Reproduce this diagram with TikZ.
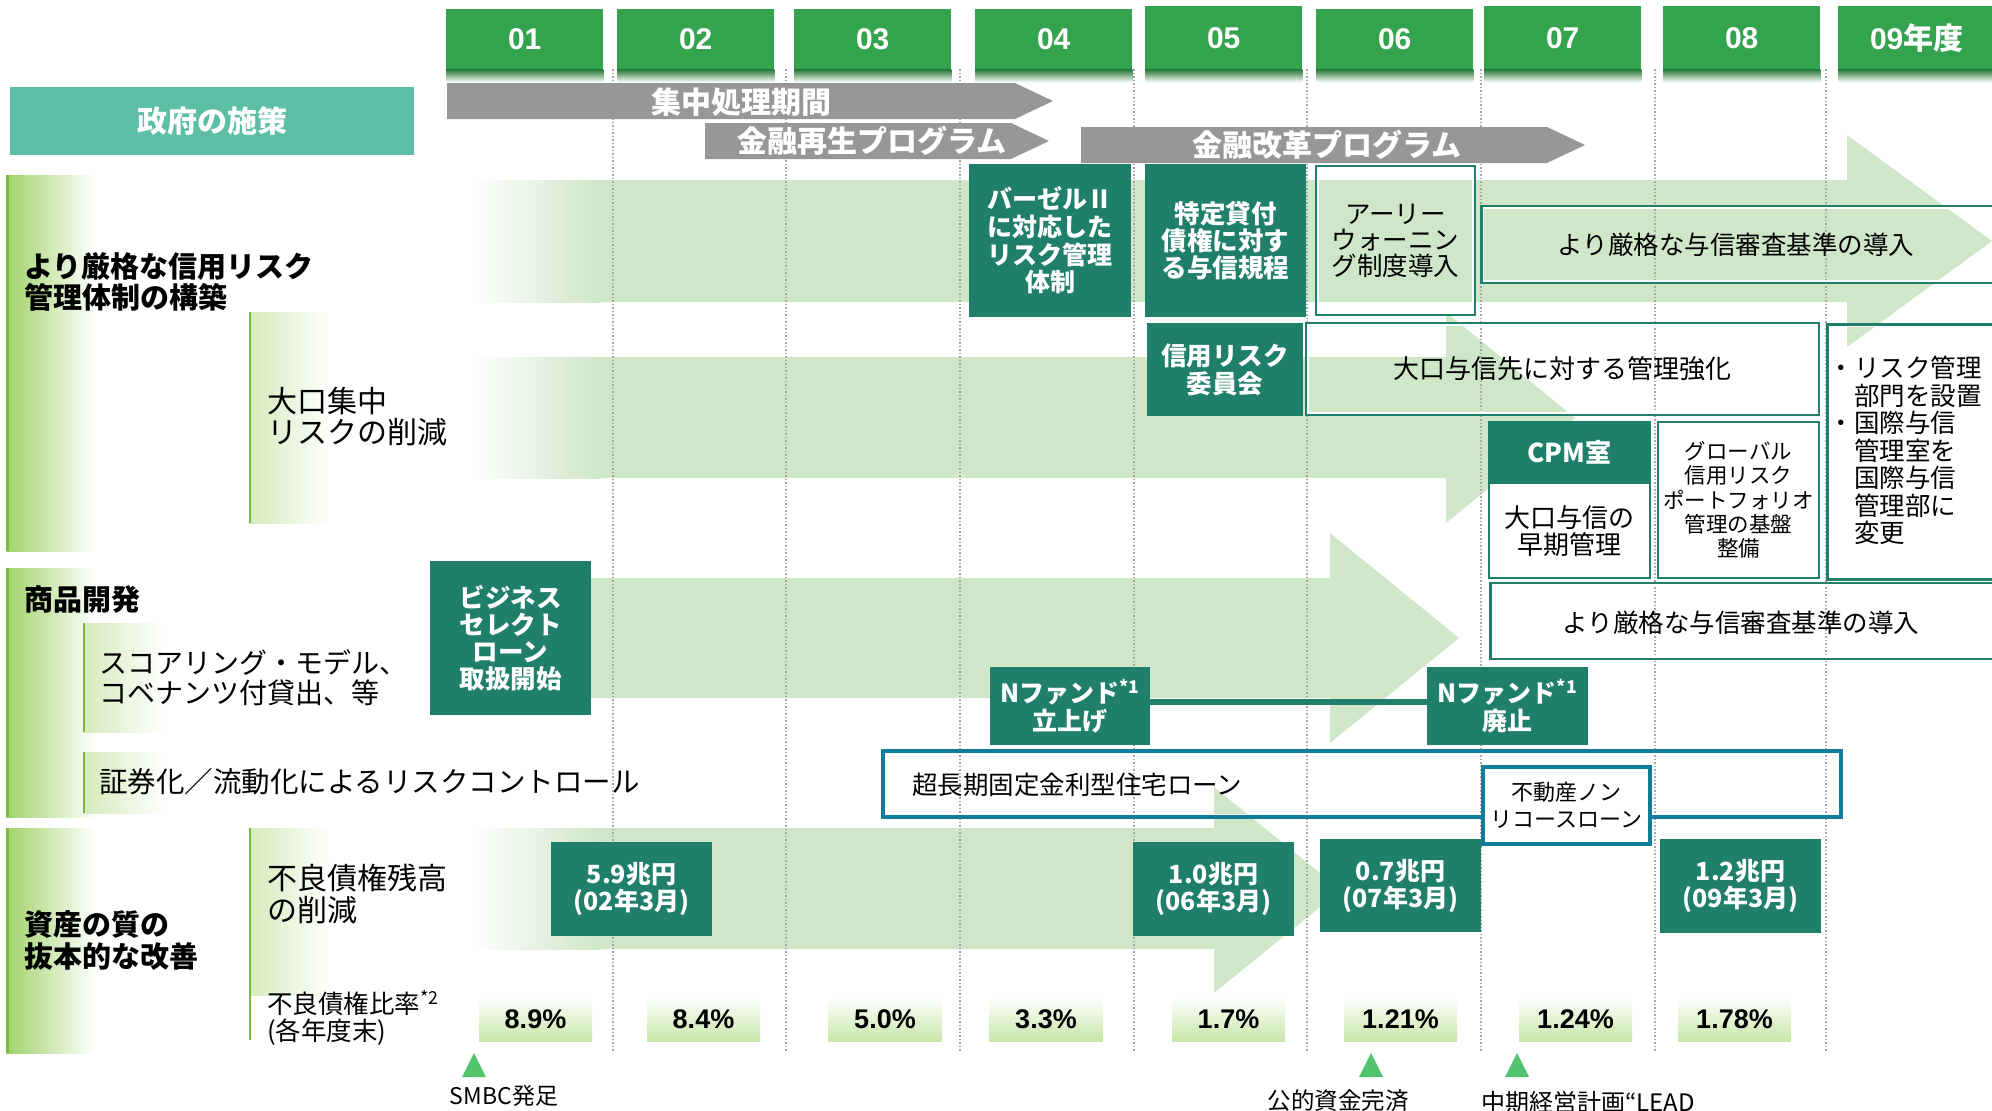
\documentclass[tikz,border=0pt]{standalone}
\usepackage{fontspec}
\setmainfont{Noto Sans CJK JP}
\newfontfamily\lat{Liberation Sans}
\definecolor{hgreen}{RGB}{52,163,77}
\definecolor{hdark}{RGB}{38,120,56}
\definecolor{govc}{RGB}{91,190,165}
\definecolor{agray}{RGB}{151,151,151}
\definecolor{lg}{RGB}{207,230,200}
\definecolor{dteal}{RGB}{31,127,106}
\definecolor{bblue}{RGB}{17,125,155}
\definecolor{barg}{RGB}{160,210,105}
\definecolor{barl}{RGB}{125,185,65}
\definecolor{pctg}{RGB}{200,230,168}
\definecolor{trig}{RGB}{82,196,110}
\definecolor{dotg}{RGB}{165,165,165}
\tikzset{
  fnt/.style 2 args={font=\fontsize{#1}{#2}\selectfont},
  bfnt/.style 2 args={font=\bfseries\fontsize{#1}{#2}\selectfont},
  hbox/.style={fill=hgreen, text=white, inner sep=0, minimum width=157pt, anchor=north west, font=\lat\bfseries\fontsize{30}{32}\selectfont},
  dbox/.style={fill=dteal, text=white, inner sep=0, align=center},
  obox/.style={draw=dteal, line width=2.5pt, inner sep=0, align=center,
    path picture={\draw[white,line width=6pt] (path picture bounding box.south west) rectangle (path picture bounding box.north east);}},
  bbox/.style={draw=bblue, line width=3.5pt, inner sep=0, align=center,
    path picture={\draw[white,line width=7pt] (path picture bounding box.south west) rectangle (path picture bounding box.north east);}},
  pbox/.style={top color=white, bottom color=pctg, inner sep=0, minimum width=113pt, minimum height=44pt, font=\lat\bfseries\fontsize{27}{28}\selectfont},
  lbl/.style={inner sep=0, align=left, anchor=west},
  gtext/.style={text=white, inner sep=0, bfnt={30}{32}},
  dotline/.style={dotg, line width=1.2pt, dash pattern=on 1.5pt off 2pt},
}
\begin{document}
\begin{tikzpicture}[x=1pt,y=-1pt]
\useasboundingbox (0,0) rectangle (1992,1111);
\clip (0,0) rectangle (1992,1111);

% big light green arrows
\fill[lg] (600,180) -- (1847,180) -- (1847,135) -- (1992,241) -- (1847,347) -- (1847,302) -- (600,302) -- cycle;
\shade[left color=white,right color=lg] (472,180) rectangle (601,302);
\fill[lg] (600,357) -- (1446,357) -- (1446,312) -- (1575,418) -- (1446,523) -- (1446,478) -- (600,478) -- cycle;
\shade[left color=white,right color=lg] (472,357) rectangle (601,478);
\fill[lg] (560,578) -- (1330,578) -- (1330,533) -- (1459,638) -- (1330,743) -- (1330,698) -- (560,698) -- cycle;
\fill[lg] (600,828) -- (1214,828) -- (1214,787) -- (1341,890) -- (1214,993) -- (1214,949) -- (600,949) -- cycle;
\shade[left color=white,right color=lg] (472,828) rectangle (601,949);

% left category bars
\shade[left color=barg,right color=white] (6,175) rectangle (95,551);
\draw[barl,line width=3pt] (7.5,175) -- (7.5,551);
\node[lbl,bfnt={29}{31}] (c1) at (24,282) {より厳格な信用リスク\\管理体制の構築};
\shade[left color=barg!45,right color=white] (249,312) rectangle (330,523);
\draw[barl,line width=2.5pt] (250,312) -- (250,523);
\node[lbl,fnt={30}{31}] (s1) at (267,417) {大口集中\\リスクの削減};

\shade[left color=barg,right color=white] (6,568) rectangle (95,817);
\draw[barl,line width=3pt] (7.5,568) -- (7.5,817);
\node[lbl,bfnt={29}{31}] (c2) at (24,600) {商品開発};
\shade[left color=barg!45,right color=white] (83,623) rectangle (165,732);
\draw[barl,line width=2.5pt] (84,623) -- (84,732);
\node[lbl,fnt={28}{30}] (s2) at (99,678) {スコアリング・モデル、\\コベナンツ付貸出、等};
\shade[left color=barg!45,right color=white] (83,752) rectangle (165,813);
\draw[barl,line width=2.5pt] (84,752) -- (84,813);
\node[lbl,fnt={28.5}{30}] (s3) at (99,782) {証券化／流動化によるリスクコントロール};

\shade[left color=barg,right color=white] (6,828) rectangle (95,1053);
\draw[barl,line width=3pt] (7.5,828) -- (7.5,1053);
\node[lbl,bfnt={29}{32}] (c3) at (24,941) {資産の質の\\抜本的な改善};
\shade[left color=barg!45,right color=white] (249,828) rectangle (330,995);
\draw[barl,line width=2.5pt] (250,828) -- (250,1040);
\node[lbl,fnt={30}{32}] (s4) at (267,894) {不良債権残高\\の削減};
\node[lbl,fnt={25.5}{27}] (s5) at (267,1018) {不良債権比率\textsuperscript{*2}\\(各年度末)};

% dotted year lines
\foreach \x in {613,786,960,1134,1307,1481,1655,1826}
  \draw[dotline] (\x,69) -- (\x,1052);

% year headers
\foreach \x/\t/\h/\lab [count=\i] in {446/9/60/01, 617/9/60/02, 794/9/60/03, 975/9/60/04, 1145/6/63/05, 1316/9/60/06, 1484/6/63/07, 1663/6/63/08, 1838/6/63/{09{\rmfamily 年度}}}{
  \node[hbox, minimum height=\h pt] (h\i) at (\x,\t) {\lab};
  \shade[top color=hdark,bottom color=white] (h\i.south west) rectangle ([yshift=-13pt]h\i.south east);
}

% government measures
\node[fill=govc, minimum width=404pt, minimum height=68pt, inner sep=0, text=white, bfnt={30}{32}] (gov) at (212,121) {政府の施策};
\fill[agray] (447,83) -- (1015,83) -- (1053,101) -- (1015,119) -- (447,119) -- cycle;
\node[gtext] (ga1) at (741,102) {集中処理期間};
\fill[agray] (705,123) -- (1011,123) -- (1049,141) -- (1011,159) -- (705,159) -- cycle;
\node[gtext] (ga2) at (872,141) {金融再生プログラム};
\fill[agray] (1081,127) -- (1547,127) -- (1585,145) -- (1547,163) -- (1081,163) -- cycle;
\node[gtext] (ga3) at (1327,145) {金融改革プログラム};

% row 1
\node[dbox, minimum width=162pt, minimum height=153pt, bfnt={25}{27.7}] (basel) at (1050,240.5) {バーゼルⅡ\\に対応した\\リスク管理\\体制};
\node[dbox, minimum width=161pt, minimum height=153pt, bfnt={25.5}{27}] (tokutei) at (1225.5,240.5) {特定貸付\\債権に対す\\る与信規程};
\node[obox, minimum width=159pt, minimum height=149pt, fnt={25.5}{26}] (early) at (1395.5,240.5) {アーリー\\ウォーニン\\グ制度導入};
\node[obox, minimum width=540pt, minimum height=77pt, anchor=west] (strict1) at (1480,244.5) {};
\node[fnt={25.5}{26}, inner sep=0] (strict1t) at (1736,245) {より厳格な与信審査基準の導入};

% row 2
\node[dbox, minimum width=156pt, minimum height=93pt, bfnt={25.5}{28}] (iinkai) at (1225,369.5) {信用リスク\\委員会};
\node[obox, minimum width=513pt, minimum height=92pt, fnt={26}{28}] (oguchi) at (1562.5,369) {大口与信先に対する管理強化};
\node[obox, minimum width=200pt, minimum height=255pt, anchor=north west] (risk) at (1826,323) {};
\node[lbl, fnt={25.5}{27.5}] (riskt) at (1854,450.5) {\llap{・}リスク管理\\部門を設置\\\llap{・}国際与信\\管理室を\\国際与信\\管理部に\\変更};
\node[obox, minimum width=161pt, minimum height=156pt] (cpm) at (1569.5,500) {};
\node[dbox, minimum width=163pt, minimum height=63pt, bfnt={26}{28}] (cpmh) at (1569.5,452.5) {CPM室};
\node[fnt={26}{27}, align=center, inner sep=0] (cpmt) at (1569.5,531.5) {大口与信の\\早期管理};
\node[obox, minimum width=161pt, minimum height=156pt, fnt={21.5}{24.25}] (global) at (1738.5,500) {グローバル\\信用リスク\\ポートフォリオ\\管理の基盤\\整備};

% row 3
\node[dbox, minimum width=161pt, minimum height=154pt, bfnt={25.5}{27}] (bsl) at (510.5,638) {ビジネス\\セレクト\\ローン\\取扱開始};
\node[obox, minimum width=540pt, minimum height=76pt, anchor=west] (strict2) at (1489,621) {};
\node[fnt={25.5}{26}, inner sep=0] (strict2t) at (1741,623) {より厳格な与信審査基準の導入};
\node[dbox, minimum width=160pt, minimum height=78pt, bfnt={25}{28}] (nf1) at (1070,706) {Nファンド\textsuperscript{*1}\\立上げ};
\node[dbox, minimum width=161pt, minimum height=78pt, bfnt={25}{28}] (nf2) at (1507.5,706) {Nファンド\textsuperscript{*1}\\廃止};
\draw[dteal,line width=6pt] ([yshift=4pt]nf1.east) -- ([yshift=4pt]nf2.west);

% row 4
\node[bbox, minimum width=958pt, minimum height=66pt] (jutaku) at (1362,784) {};
\node[lbl, fnt={25.5}{27}] (jutakut) at (912,785) {超長期固定金利型住宅ローン};
\node[bbox, fill=white, minimum width=167pt, minimum height=77pt, fnt={22}{27}] (nonre) at (1566.5,805.5) {不動産ノン\\リコースローン};

% row 5
\node[dbox, minimum width=161pt, minimum height=94pt, bfnt={25}{27}] (v1) at (631.5,889) {5.9兆円\\(02年3月)};
\node[dbox, minimum width=161pt, minimum height=94pt, bfnt={25}{27}] (v2) at (1213.5,889) {1.0兆円\\(06年3月)};
\node[dbox, minimum width=161pt, minimum height=93pt, bfnt={25}{27}] (v3) at (1400.5,885.5) {0.7兆円\\(07年3月)};
\node[dbox, minimum width=161pt, minimum height=94pt, bfnt={25}{27}] (v4) at (1740.5,886) {1.2兆円\\(09年3月)};

% ratios
\foreach \x/\v [count=\i] in {535.5/8.9\%, 703.5/8.4\%, 885/5.0\%, 1046/3.3\%, 1228.5/1.7\%, 1400.5/1.21\%, 1575.5/1.24\%, 1734.5/1.78\%}
  \node[pbox] (p\i) at (\x,1019) {\v};

% milestones
\fill[trig] (462,1077) -- (474,1053) -- (486,1077) -- cycle;
\fill[trig] (1359,1077) -- (1371,1053) -- (1383,1077) -- cycle;
\fill[trig] (1505,1077) -- (1517,1053) -- (1529,1077) -- cycle;
\node[fnt={23}{25}, inner sep=0] (smbc) at (504,1096) {SMBC発足};
\node[fnt={23.5}{25}, inner sep=0] (kouteki) at (1338,1101) {公的資金完済};
\node[fnt={24}{26}, inner sep=0] (lead) at (1588,1102) {中期経営計画“LEAD};
\end{tikzpicture}
\end{document}
